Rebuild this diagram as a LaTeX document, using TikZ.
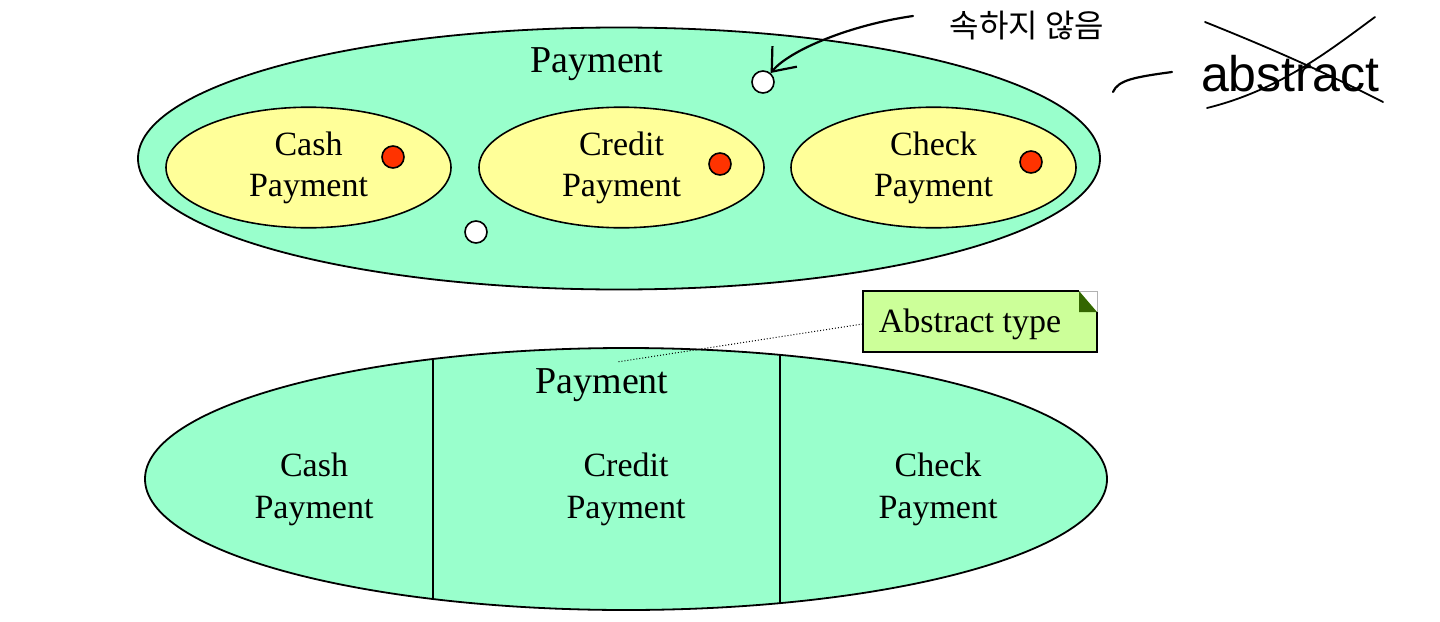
\documentclass[tikz,border=0pt]{standalone}
\usepackage{fontspec}
\setmainfont{Liberation Serif}
\newfontfamily\krhand{Noto Sans CJK KR}
\newfontfamily\enhand{Liberation Sans}
\usetikzlibrary{shapes.geometric,arrows.meta}
\definecolor{payGreen}{HTML}{99FFCC}
\definecolor{subYellow}{HTML}{FFFF99}
\definecolor{dotRed}{HTML}{FF3300}
\definecolor{noteGreen}{HTML}{CCFF99}
\definecolor{foldGreen}{HTML}{336600}

\begin{document}
\begin{tikzpicture}[x=0.5pt, y=-0.5pt,
    bigset/.style={ellipse, draw, line width=0.9pt, fill=payGreen, minimum width=481pt, minimum height=131pt},
    subset/.style={ellipse, draw, line width=0.8pt, fill=subYellow, minimum width=142.5pt, minimum height=47.5pt,
        align=center, font=\fontsize{17}{20.5}\selectfont},
    elem/.style={circle, draw, line width=0.8pt, inner sep=0pt, minimum size=11pt},
    lbl/.style={align=center, font=\fontsize{17}{21}\selectfont},
    ttl/.style={font=\fontsize{19}{23}\selectfont},
    hand/.style={line width=1.1pt, line cap=round}]
    \useasboundingbox (0,0) rectangle (1440,621);

    % upper picture: subtypes as separate sets
    \node[bigset] (payA) at (619,158.5) {};
    \node[ttl] (payAt) at (597,64) {Payment};
    \node[subset] (cashA) at (308.5,167.5) {Cash\\Payment};
    \node[subset] (creditA) at (621.5,167.5) {Credit\\Payment};
    \node[subset] (checkA) at (933.5,167.5) {Check\\Payment};
    \node[elem, fill=dotRed] (r1) at (393,157) {};
    \node[elem, fill=dotRed] (r2) at (720,164) {};
    \node[elem, fill=dotRed] (r3) at (1031,162) {};
    \node[elem, fill=white] (w1) at (763,82) {};
    \node[elem, fill=white] (w2) at (476,232) {};

    % handwritten notes
    \node[font=\krhand\fontsize{16}{18}\selectfont] (kor) at (1027,26) {속하지 않음};
    \coordinate (hook) at (913,16);
    \draw[hand, -{Straight Barb[length=10pt, width=16pt]}] (hook) .. controls (850,25) and (790,50) .. (w1);
    \node[font=\enhand\fontsize{25}{30}\selectfont] (abs) at (1290,74) {abstract};
    \coordinate (dashL) at (1113,92);
    \coordinate (dashR) at (1172,72);
    \draw[hand] (dashL) .. controls (1118,80) and (1135,77) .. (dashR);
    \draw[hand, line width=0.9pt] (1205,22) .. controls (1280,52) and (1330,75) .. (1383,102);
    \draw[hand, line width=0.9pt] (1207,108) .. controls (1280,90) and (1330,50) .. (1375,17);

    % lower picture: one set split in partitions
    \node[bigset] (payB) at (626,479) {};
    \begin{scope}
        \clip (626,479) ellipse [x radius=481, y radius=131];
        \draw[line width=0.7pt] (433,340) -- (433,620);
        \draw[line width=0.7pt] (780,340) -- (780,620);
    \end{scope}
    \node[ttl] (payBt) at (602,385) {Payment};
    \node[lbl] (cashB) at (314,489) {Cash\\Payment};
    \node[lbl] (creditB) at (626,489) {Credit\\Payment};
    \node[lbl] (checkB) at (938,489) {Check\\Payment};

    % note
    \fill[noteGreen] (863,291) -- (1079,291) -- (1097,312) -- (1097,352) -- (863,352) -- cycle;
    \draw[line width=0.8pt] (1079,291) -- (863,291) -- (863,352) -- (1097,352) -- (1097,312);
    \draw[gray!60, line width=0.4pt] (1079,291) -- (1097,291) -- (1097,312);
    \fill[foldGreen] (1079,291) -- (1079,312) -- (1097,312) -- cycle;
    \node[lbl, minimum width=117pt, minimum height=30.5pt, inner sep=0pt] (note) at (980,324) {Abstract type\hspace*{10pt}};
    \coordinate (noteTip) at (617,362);
    \draw[densely dotted, line width=0.5pt] (note.west) -- (noteTip);
\end{tikzpicture}
\end{document}
